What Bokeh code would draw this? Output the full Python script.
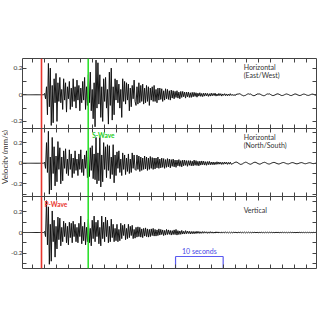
import math
from bokeh.plotting import figure
from bokeh.models import (Range1d, LinearAxis, FixedTicker, CustomJSTickFormatter,
                          Span, Label, ColumnDataSource)
from bokeh.layouts import column, row
from bokeh.embed import file_html
from bokeh.resources import INLINE

# ------------- data: ground velocity in micrometres per second (um/s) --------------
# one sample every DT seconds, first sample at t = DT
DT = 0.2
ew_um_s = [
    0, 0, 0, 0, 0, 0, 0, 0, 0, 0, 0, 0, 0, 0, 0, 0, 0, 0, 0, 0,
    0, 0, 0, 0, 10, -30, 60, -150, 235, -90, 200, -230, 70, -210, 120, -60, 160, -200, 90, -50,
    130, -60, 40, -110, 120, -40, 90, -130, 60, -30, 100, -110, 50, -90, 120, -50, 60, -100, 110, -40,
    70, -120, 50, -60, 100, -40, 130, -110, 60, -80, 150, -60, 170, -120, 40, -180, 90, -240, 260, -100,
    240, -70, 150, -170, 60, -200, 120, -50, 130, -100, 40, -220, 170, -80, 200, -190, 60, -150, 120, -40,
    110, -60, 80, -100, 40, -170, 120, -50, 100, -70, 90, -40, 80, -120, 50, -90, 70, -30, 110, -50,
    -80, 60, -70, 90, -60, 70, -50, 80, -70, 50, -60, 70, -50, 60, -80, 50, -40, 60, -50, 70,
    -50, 40, -60, 50, -40, 50, -35, 45, -50, 30, -40, 45, -30, 40, -35, 30, -40, 35, -25, 30,
    -30, 25, -20, 30, -25, 20, -30, 25, -20, 25, -15, 20, -25, 20, -15, 20, -20, 15, -20, 18,
    -15, 18, -12, 15, -18, 12, -10, 15, -12, 10, -14, 12, -10, 12, -8, 10, -12, 8, -10, 12,
    -8, 10, -6, 12, -10, 6, -8, 10, -6, 8, -10, 6, -5, 8, -7, 6, -8, 5, -6, 8,
    -5, 3, -6, 2, -7, 4, 2, 7, 5, 8, 3, -2, -5, -8, -6, -4, 1, 5, 7, 4,
    6, 2, -3, -6, -7, -4, 0, 4, 7, 5, 6, 2, -2, -5, -7, -6, -2, 3, 6, 5,
    7, 3, -1, -5, -6, -4, -1, 3, 6, 7, 4, 1, -3, -6, -5, -3, 1, 4, 6, 4,
    2, -2, -5, -6, -3, 0, 4, 6, 5, 2, -2, -4, -6, -4, -1, 3, 5, 4, 2, -2,
    -4, -5, -3, 0, 3, 5, 4, 1, -2, -3,
]
ns_um_s = [
    0, 0, 0, 0, 0, 0, 0, 0, 0, 0, 0, 0, 0, 0, 0, 0, 0, 0, 0, 0,
    0, 0, 0, 0, 10, -50, 200, -90, 310, -300, 60, -260, 250, -100, 160, -220, 70, -180, 210, -60,
    150, -200, 60, -170, 120, -50, 140, -100, 40, -120, 130, -60, 90, -140, 50, -100, 120, -70, 40, -120,
    90, -60, 130, -90, 40, -120, 80, -50, 120, -140, 60, -130, 150, -70, 170, -150, 90, -160, 250, -200,
    100, -170, 250, -230, 80, -180, 200, -60, 160, -140, 180, -70, 170, -150, 60, -110, 180, -190, 80, -120,
    110, -50, 120, -90, 40, -120, 100, -60, 80, -110, 50, -80, 90, -100, 40, -90, 100, -50, 80, -60,
    -70, 80, -60, 70, -80, 60, -70, 50, -60, 70, -55, 60, -70, 50, -60, 65, -50, 55, -60, 50,
    -55, 50, -45, 60, -50, 40, -45, 50, -40, 45, -50, 35, -40, 45, -35, 40, -45, 35, -30, 40,
    -35, 30, -40, 30, -25, 35, -30, 25, -35, 30, -25, 30, -20, 25, -30, 25, -20, 25, -25, 20,
    -25, 30, -20, 25, -22, 18, -25, 20, -18, 22, -15, 20, -18, 15, -20, 16, -14, 18, -15, 12,
    -14, 12, -15, 10, -12, 14, -10, 12, -9, 10, -12, 9, -10, 12, -8, 10, -11, 8, -9, 10,
    -10, -6, -2, 4, 8, 12, 9, 4, -3, -8, -12, -9, -5, 2, 6, 10, 8, 3, -3, -7,
    -10, -7, -2, 4, 8, 10, 7, 2, -3, -7, -9, -6, -1, 4, 7, 9, 6, 1, -4, -7,
    -8, -5, 0, 4, 7, 8, 5, 1, -3, -6, -8, -5, -1, 3, 6, 7, 4, 0, -4, -6,
    -7, -4, 0, 4, 6, 5, 2, -2, -5, -6, -4, -1, 3, 5, 6, 3, -1, -4, -5, -3,
    0, 3, 5, 4, 1, -2, -4, -3, -1, 1,
]
vert_um_s = [
    0, 0, 0, 0, 0, 0, 0, 0, 0, 0, 0, 0, 0, 0, 0, 0, 0, 0, 0, 0,
    0, 0, 0, 0, 10, -40, 310, -120, 250, -310, 80, -280, 210, -90, 120, -240, 60, -160, 150, -70,
    140, -130, 50, -90, 110, -40, 90, -100, 60, -120, 100, -50, 90, -100, 110, -40, 80, -90, 50, -100,
    90, -40, 160, -110, 60, -80, 100, -120, 50, -90, 130, -100, 40, -130, 120, -60, 160, -90, 100, -40,
    120, -110, 50, -130, 160, -60, 100, -90, 150, -40, 120, -100, 60, -90, 130, -50, 80, -90, 40, -80,
    80, -90, 30, -80, 90, -60, 70, -30, 80, -70, 40, -60, 80, -50, 60, -30, 70, -60, 30, -55,
    50, -45, 55, -40, 50, -45, 35, -50, 40, -35, 45, -40, 35, -45, 30, -40, 35, -30, 40, -35,
    30, -35, 25, -30, 35, -25, 30, -20, 25, -30, 20, -25, 30, -20, 25, -18, 20, -25, 18, -20,
    25, -20, 30, -25, 18, -20, 15, -18, 20, -15, 12, -15, 18, -12, 14, -10, 12, -14, 10, -12,
    10, -12, 9, -10, 12, -8, 10, -9, 7, -8, 9, -7, 8, -6, 7, -8, 6, -7, 8, -6,
    6, -7, 5, -6, 7, -5, 6, -5, 4, -6, 5, -4, 6, -5, 4, -5, 5, -4, 4, -5,
    4, -5, 4, -3, 5, -4, 3, -4, 5, -3, 4, -4, 3, -3, 4, -4, 3, -3, 4, -3,
    3, -4, 3, -3, 4, -3, 3, -3, 3, -4, 3, -2, 3, -3, 2, -3, 3, -2, 3, -3,
    3, -2, 3, -3, 2, -3, 2, -2, 3, -2, 2, -3, 2, -2, 3, -2, 2, -2, 2, -3,
    2, -2, 3, -2, 2, -2, 2, -3, 2, -2, 2, -2, 3, -2, 2, -2, 2, -2, 2, -2,
    2, -2, 2, -2, 1, -2, 2, -1, 1, 0,
]
UM_PER_MM = 1000.0
times = [round(DT * (i + 1), 2) for i in range(len(ew_um_s))]

p_wave_time = 4.35
s_wave_time = 14.16
x_ticks = [2.5 * k for k in range(1, 25)]
y_major = [-0.2, 0, 0.2]
y_minor = [-0.3, -0.1, 0.1, 0.3]
scale_bar_x = [32.5, 42.5]
scale_bar_label = "10 seconds"
panel_names = [["Horizontal", "(East/West)"], ["Horizontal", "(North/South)"], ["Vertical"]]
y_title = "Velocity (mm/s)"

FONT = "Lato"
AX = "#444444"
STRIP_W = 8
x_range = Range1d(0.36, 62.1)


def make_panel(values_um, y_lo, y_hi, height, top, bottom, bottom_line):
    p = figure(width=320 - STRIP_W, height=height, x_range=x_range, y_range=Range1d(y_lo, y_hi),
               output_backend="svg", toolbar_location=None,
               x_axis_location=None, y_axis_location=None,
               min_border_left=22 - STRIP_W, min_border_right=4,
               min_border_top=top, min_border_bottom=bottom,
               background_fill_color="white", border_fill_color="white",
               outline_line_color=None)
    p.grid.visible = False
    for loc in ("left", "right"):
        ax = LinearAxis(ticker=FixedTicker(ticks=y_major, minor_ticks=y_minor),
                        major_tick_in=4, major_tick_out=0,
                        minor_tick_in=4, minor_tick_out=0,
                        axis_line_color=AX, major_tick_line_color=AX,
                        minor_tick_line_color=AX)
        if loc == "left":
            ax.formatter = CustomJSTickFormatter(code="return tick == 0 ? '0' : tick.toFixed(1);")
            ax.major_label_text_font_size = "6.5px"
            ax.major_label_text_font = FONT
            ax.major_label_text_color = "#333333"
            ax.major_label_standoff = 0
        else:
            ax.formatter = CustomJSTickFormatter(code="return '';")
            ax.major_label_text_font_size = "0px"
            ax.major_label_standoff = 0
        p.add_layout(ax, loc)
    for loc, show_line in (("above", True), ("below", bottom_line)):
        ax = LinearAxis(ticker=FixedTicker(ticks=x_ticks, minor_ticks=[]),
                        major_tick_in=4, major_tick_out=0,
                        minor_tick_in=0, minor_tick_out=0,
                        axis_line_color=AX if show_line else None,
                        major_tick_line_color=AX,
                        formatter=CustomJSTickFormatter(code="return '';"),
                        major_label_text_font_size="0px", major_label_standoff=0)
        p.add_layout(ax, loc)
    src = ColumnDataSource(data=dict(t=times, v=[u / UM_PER_MM for u in values_um]))
    p.line(x="t", y="v", source=src, line_color="#0d0d0d", line_width=0.95)
    p.add_layout(Span(location=p_wave_time, dimension="height",
                      line_color="#e8352d", line_width=1.6))
    p.add_layout(Span(location=s_wave_time, dimension="height",
                      line_color="#2ee02e", line_width=1.6))
    return p


p1 = make_panel(ew_um_s, -0.253, 0.272, 128, 58, 0, False)
p2 = make_panel(ns_um_s, -0.323, 0.337, 68, 0, 0, False)
p3 = make_panel(vert_um_s, -0.351, 0.351, 124, 0, 52, True)

# panel titles
for p, names, ys in ((p1, panel_names[0], [0.207, 0.150]),
                     (p2, panel_names[1], [0.250, 0.177]),
                     (p3, panel_names[2], [0.215])):
    for name, yy in zip(names, ys):
        p.add_layout(Label(x=46.8, y=yy, text=name, text_font=FONT, text_font_size="7px",
                           text_color="#333333", text_baseline="middle", text_align="left"))

p2.add_layout(Label(x=15.0, y=0.266, text="S-Wave", text_font=FONT, text_font_size="6.5px",
                    text_font_style="bold", text_color="#22cc22",
                    text_baseline="middle", text_align="left"))
p3.add_layout(Label(x=5.0, y=0.273, text="P-Wave", text_font=FONT, text_font_size="6.5px",
                    text_font_style="bold", text_color="#e8352d",
                    text_baseline="middle", text_align="left"))

# scale bar
bar_src = ColumnDataSource(data=dict(
    xs=[scale_bar_x, [scale_bar_x[0], scale_bar_x[0]], [scale_bar_x[1], scale_bar_x[1]]],
    ys=[[-0.234, -0.234], [-0.234, -0.351], [-0.234, -0.351]]))
p3.multi_line(xs="xs", ys="ys", source=bar_src, line_color="#5a5af0", line_width=1.2)
p3.add_layout(Label(x=sum(scale_bar_x) / 2, y=-0.176, text=scale_bar_label, text_font=FONT,
                    text_font_size="7px", text_color="#4a4ae8",
                    text_baseline="middle", text_align="center"))

# narrow strip holding the shared y-axis title
title_fig = figure(width=STRIP_W, height=320, x_range=Range1d(0, 1), y_range=Range1d(0, 1),
                   output_backend="svg", toolbar_location=None,
                   x_axis_location=None, y_axis_location=None,
                   min_border_left=0, min_border_right=0, min_border_top=0, min_border_bottom=0,
                   background_fill_color="white", border_fill_color="white",
                   outline_line_color=None)
title_fig.grid.visible = False
title_fig.add_layout(Label(x=0.5, y=0.511, text=y_title, angle=math.pi / 2, text_font=FONT,
                           text_font_size="8px", text_color="#333333",
                           text_baseline="middle", text_align="center"))

layout = row(title_fig, column(p1, p2, p3, spacing=0), spacing=0)
open("out.html", "w").write(file_html(layout, INLINE))
